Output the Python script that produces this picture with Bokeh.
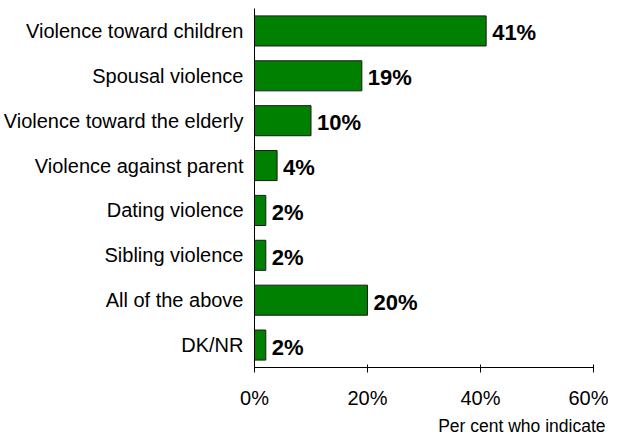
from bokeh.plotting import figure
from bokeh.models import ColumnDataSource, FixedTicker, CustomJSTickFormatter, Title
from bokeh.core.properties import value
from bokeh.embed import file_html
from bokeh.resources import INLINE

categories = ["Violence toward children", "Spousal violence", "Violence toward the elderly",
              "Violence against parent", "Dating violence", "Sibling violence",
              "All of the above", "DK/NR"]
values = [41, 19, 10, 4, 2, 2, 20, 2]
value_labels = ["41%", "19%", "10%", "4%", "2%", "2%", "20%", "2%"]
x_ticks = [0, 20, 40, 60]
x_title = "Per cent who indicate"

FONT = "Liberation Sans"

p = figure(frame_width=339, frame_height=359, y_range=list(reversed(categories)), x_range=(0, 60),
           output_backend="svg", toolbar_location=None,
           min_border_left=246, min_border_right=15, min_border_top=8, min_border_bottom=68)
p.outline_line_color = None
p.xgrid.visible = False
p.ygrid.visible = False
p.background_fill_color = "white"

src = ColumnDataSource(dict(cat=categories, val=values, lab=value_labels))
p.hbar(y="cat", right="val", left=0, height=0.67, source=src,
       fill_color="#008000", line_color="#1a1a1a", line_width=1)
p.text(x="val", y="cat", text="lab", source=src, x_offset=6, y_offset=2,
       text_font=value(FONT), text_font_style="bold", text_font_size="22px",
       text_color="black", text_align="left", text_baseline="middle")

xa = p.xaxis[0]
xa.ticker = FixedTicker(ticks=x_ticks)
xa.formatter = CustomJSTickFormatter(code="return tick + '%';")
xa.major_label_text_font = FONT
xa.major_label_text_font_size = "20px"
xa.major_label_text_color = "black"
xa.major_tick_in = 3
xa.major_tick_out = 5
xa.minor_tick_line_color = None
xa.axis_line_color = "black"
xa.major_tick_line_color = "black"
xa.major_label_standoff = 14

ya = p.yaxis[0]
ya.major_label_text_font = FONT
ya.major_label_text_font_size = "20px"
ya.major_label_text_color = "black"
ya.major_tick_line_color = None
ya.minor_tick_line_color = None
ya.axis_line_color = "black"
ya.major_label_standoff = 5

p.add_layout(Title(text=x_title, align="right", offset=-12, text_font=FONT,
                   text_font_size="17.5px", text_font_style="normal",
                   text_color="black", standoff=4), "below")

open("out.html", "w").write(file_html(p, INLINE))
